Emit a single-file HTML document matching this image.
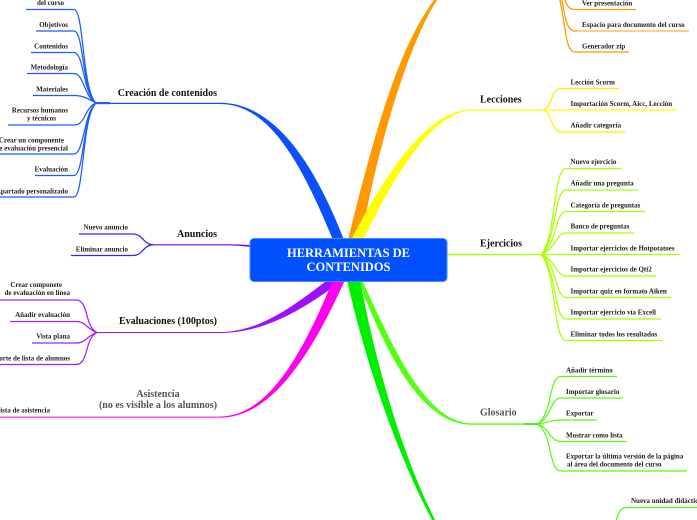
<!DOCTYPE html>
<html><head><meta charset="utf-8"><style>
html,body{margin:0;padding:0;background:#fff}
svg{display:block}
.l{font:bold 7px "Liberation Serif",serif;fill:#222}
.m{font:bold 10px "Liberation Serif",serif;fill:#111}
.g{font:bold 10px "Liberation Serif",serif;fill:#555}
.t{font:bold 12.5px "Liberation Serif",serif;fill:#fff}
.e{text-anchor:end}
path.s{fill:none;stroke-width:1.25}
</style></head><body>
<svg width="697" height="520" viewBox="0 0 697 520" xmlns="http://www.w3.org/2000/svg">
<!-- main branches -->
<path fill="#0a50ff" d="M96 104H220C270 104.200 302 165 333 240L344 240C315 165 275 102.800 220 102.800H96Z"/>
<path fill="#1a5cff" d="M96 102H110V104.200H96Z"/>
<path fill="#ff9900" d="M434 0C405 40 382 100 348 240L361 240C375 160 405 50 437 0Z"/>
<path fill="#ffff00" d="M473 109.400C430 109.400 390 165 351 240L363 240C395 175 432 110.600 473 110.600H543V109.400Z"/>
<path fill="#7000ff" d="M153 244.200H220C235 244.200 240 244.500 252 245V247C240 246 235 245.400 220 245.400H153Z"/>
<path fill="#9a10ff" d="M97 332H220C260 332 295 305 330 278L340 282C300 312 262 333 220 333H97Z"/>
<path fill="#ff00ee" d="M0 416.600H220C268 416 302 355 333 280L345 280C310 358 270 417.600 220 417.600H0Z"/>
<path fill="#aaff00" d="M445 253.800C470 253.600 500 254 541 254V255.200H445Z"/>
<path fill="#55ff11" d="M362 280C392 345 425 423 472 423.400H537V424.800H472C420 424.800 385 350 358 280Z"/>
<path fill="#00ee00" d="M347 280C365 360 395 450 432 520L435 520C400 450 375 360 360 280Z"/>

<!-- central node -->
<rect x="250" y="238.500" width="197" height="43" rx="4" fill="#0050ff" stroke="#4d84ff" stroke-width="1"/>
<text class="t" x="348.500" y="257" text-anchor="middle">HERRAMIENTAS DE</text>
<text class="t" x="348.500" y="271" text-anchor="middle">CONTENIDOS</text>

<!-- blue leaves -->
<g stroke="#1a5cff">
<path class="s" d="M26 9.500H74C84 9.500 82 90 96 103"/>
<path class="s" d="M36 31H74C84 31 82 92 96 103"/>
<path class="s" d="M31 52.500H74C84 52.500 83 94 96 103"/>
<path class="s" d="M27 73.500H74C84 73.500 84 97 96 103"/>
<path class="s" d="M33 95.500H74C84 95.500 88 99 96 103"/>
<path class="s" d="M8 125H74C86 125 84 108 96 103"/>
<path class="s" d="M0 154H74C84 154 84 112 96 103"/>
<path class="s" d="M35 175.500H74C84 175.500 83 114 96 103"/>
<path class="s" d="M0 197H74C84 197 82 116 96 103"/>
</g>
<text class="l e" x="64" y="5">del curso</text>
<text class="l e" x="68" y="27">Objetivos</text>
<text class="l e" x="68" y="48.500">Contenidos</text>
<text class="l e" x="68" y="69.500">Metodología</text>
<text class="l e" x="68" y="91.500">Materiales</text>
<text class="l e" x="68" y="112.500">Recursos humanos</text>
<text class="l e" x="56" y="120.500">y técnicos</text>
<text class="l e" x="64" y="142.500">Crear un componente</text>
<text class="l e" x="68" y="150.500">de evaluación presencial</text>
<text class="l e" x="68" y="171.500">Evaluación</text>
<text class="l e" x="68" y="193.500">Apartado personalizado</text>
<text class="m e" x="217" y="96">Creación de contenidos</text>

<!-- anuncios -->
<g stroke="#3a20ff">
<path class="s" d="M79 234H133C143 234 143 244.500 153 244.800"/>
<path class="s" d="M71 255.500H133C143 255.500 143 245 153 244.800"/>
</g>
<text class="l e" x="128" y="229.500">Nuevo anuncio</text>
<text class="l e" x="128" y="251.500">Eliminar anuncio</text>
<text class="m e" x="217" y="237">Anuncios</text>

<!-- evaluaciones -->
<g stroke="#a020ff">
<path class="s" d="M0 300H76C89 300 84 326 97 332.500"/>
<path class="s" d="M10 321.500H76C86 321.500 88 330 97 332.500"/>
<path class="s" d="M32 343H76C86 343 88 335 97 332.500"/>
<path class="s" d="M0 364.500H76C89 364.500 84 339 97 332.500"/>
</g>
<text class="l e" x="62" y="287">Crear componete</text>
<text class="l e" x="70" y="295">de evaluación en línea</text>
<text class="l e" x="70" y="317">Añadir evaluación</text>
<text class="l e" x="70" y="338.500">Vista plana</text>
<text class="l e" x="70" y="360.500">Reporte de lista de alumnos</text>
<text class="m e" x="217" y="324">Evaluaciones (100ptos)</text>

<!-- asistencia -->
<text class="l e" x="50" y="412.500">Lista de asistencia</text>
<text class="g" x="158" y="397" text-anchor="middle">Asistencia</text>
<text class="g" x="158" y="408" text-anchor="middle">(no es visible a los alumnos)</text>

<!-- orange leaves -->
<g stroke="#ff9900">
<path class="s" d="M636 9.500H575C568 9.500 566 4 564 -4"/>
<path class="s" d="M689 31H575C566 31 565 15 561 -4"/>
<path class="s" d="M629 52H575C565 52 566 25 559 -4"/>
</g>
<path stroke="#ffc266" stroke-width="1.300" fill="none" d="M577 31H689"/>
<text class="l" x="582" y="5.500">Ver presentación</text>
<text class="l" x="582" y="27">Espacio para documento del curso</text>
<text class="l" x="582" y="48.500">Generador zip</text>

<!-- lecciones -->
<g stroke="#ffee00">
<path class="s" d="M619 88.500H562C550 88.500 553 107 543 110"/>
<path class="s" d="M543 110H677" stroke="#ffff00"/>
<path class="s" d="M625 132H562C550 132 553 113 543 110"/>
</g>
<text class="l" x="570.500" y="84.500">Lección Scorm</text>
<text class="l" x="570.500" y="106">Importación Scorm, Aicc, Lección</text>
<text class="l" x="570.500" y="127.500">Añadir categoría</text>
<text class="m" x="480" y="102.500">Lecciones</text>

<!-- ejercicios -->
<g stroke="#aaff00">
<path class="s" d="M621 168.500H566C553 168.500 556 240 541 254.500"/>
<path class="s" d="M638 190H566C554 190 556 243 541 254.500"/>
<path class="s" d="M645 211.500H566C555 211.500 557 246 541 254.500"/>
<path class="s" d="M634 233H566C556 233 556 249 541 254.500"/>
<path class="s" d="M541 254.500H680"/>
<path class="s" d="M656 276H566C556 276 556 260 541 254.500"/>
<path class="s" d="M671 297.500H566C555 297.500 557 263 541 254.500"/>
<path class="s" d="M661 319H566C554 319 556 266 541 254.500"/>
<path class="s" d="M662 340.500H566C553 340.500 556 269 541 254.500"/>
</g>
<text class="l" x="570.500" y="164">Nuevo ejercicio</text>
<text class="l" x="570.500" y="185.500">Añadir una pregunta</text>
<text class="l" x="570.500" y="207.500">Categoría de preguntas</text>
<text class="l" x="570.500" y="228.500">Banco de preguntas</text>
<text class="l" x="570.500" y="250.500">Importar ejercicios de Hotpotatoes</text>
<text class="l" x="570.500" y="271.500">Importar ejercicios de Qti2</text>
<text class="l" x="570.500" y="293.500">Importar quiz en formato Aiken</text>
<text class="l" x="570.500" y="314.500">Importar ejercicio vía Excell</text>
<text class="l" x="570.500" y="336.500">Eliminar todos los resultados</text>
<text class="m" x="480" y="246.500">Ejercicios</text>

<!-- glosario -->
<g stroke="#55ff11">
<path class="s" d="M617 376.500H561C548 376.500 553 415 537 424"/>
<path class="s" d="M623 398H561C550 398 552 418 537 424"/>
<path class="s" d="M597 420H561C550 420 549 423 537 424"/>
<path class="s" d="M627 441.500H561C550 441.500 550 428 537 424"/>
<path class="s" d="M687 471H561C548 471 553 433 537 424"/>
</g>
<path fill="#22ee00" d="M524 423.200H538V424.800H524Z"/>
<text class="l" x="566" y="372.500">Añadir término</text>
<text class="l" x="566" y="394">Importar glosario</text>
<text class="l" x="566" y="415.500">Exportar</text>
<text class="l" x="566" y="437.500">Mostrar como lista</text>
<text class="l" x="566" y="458.500">Exportar la última versión de la página</text>
<text class="l" x="567" y="466.500">al área del documento del curso</text>
<text class="g" x="480" y="415.500">Glosario</text>

<!-- unidad -->
<path class="s" stroke="#44ff11" d="M697 507.500H627C621 507.500 618 512 616 522"/>
<text class="l" x="631" y="503">Nueva unidad didáctica</text>
</svg>
</body></html>
